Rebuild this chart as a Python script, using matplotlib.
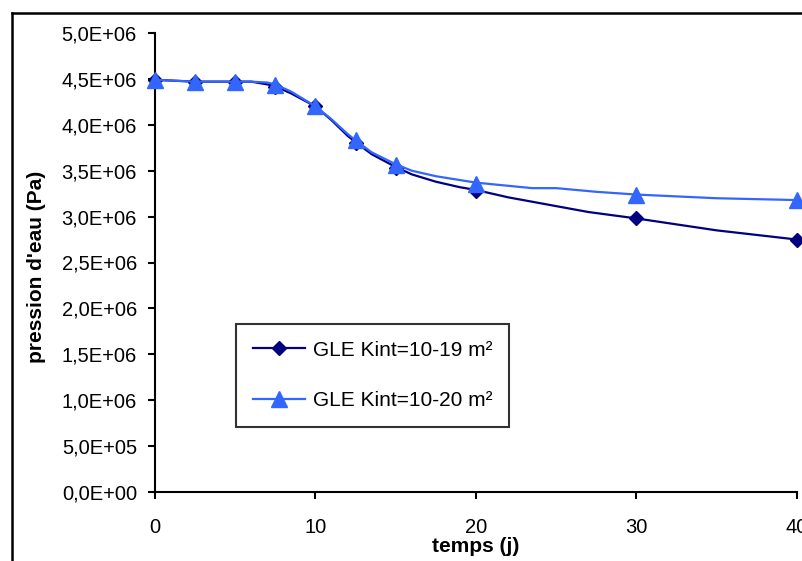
import matplotlib
matplotlib.use("Agg")
import matplotlib.pyplot as plt
from matplotlib.lines import Line2D

plt.rcParams['font.family'] = ['Liberation Sans', 'DejaVu Sans']

# --- data ---
# dense line curves
t_line_19 = [0, 2.5, 5, 6, 7, 7.5, 8.5, 10, 11, 12, 12.5, 13.5, 15, 16, 17.5, 19, 20, 21, 22, 27, 30, 35, 40]
p_line_19 = [4.49e6, 4.47e6, 4.47e6, 4.47e6, 4.44e6, 4.42e6, 4.34e6, 4.20e6, 4.05e6, 3.88e6, 3.81e6,
             3.68e6, 3.54e6, 3.46e6, 3.38e6, 3.32e6, 3.29e6, 3.25e6, 3.21e6, 3.05e6, 2.98e6, 2.85e6, 2.75e6]
t_line_20 = [0, 2.5, 5, 6, 7, 7.5, 8.5, 10, 11, 12, 12.5, 13.5, 15, 16, 17.5, 20, 23.5, 25, 27.5, 30, 35, 40]
p_line_20 = [4.49e6, 4.47e6, 4.47e6, 4.47e6, 4.46e6, 4.44e6, 4.36e6, 4.20e6, 4.06e6, 3.90e6, 3.83e6,
             3.70e6, 3.57e6, 3.50e6, 3.44e6, 3.37e6, 3.31e6, 3.31e6, 3.27e6, 3.24e6, 3.20e6, 3.18e6]
# marker points
t_mark = [0, 2.5, 5, 7.5, 10, 12.5, 15, 20, 30, 40]
p_mark_19 = [4.49e6, 4.47e6, 4.47e6, 4.41e6, 4.20e6, 3.80e6, 3.53e6, 3.28e6, 2.98e6, 2.75e6]
p_mark_20 = [4.49e6, 4.47e6, 4.47e6, 4.43e6, 4.20e6, 3.83e6, 3.56e6, 3.36e6, 3.24e6, 3.18e6]

labels = ["GLE Kint=10-19 m²", "GLE Kint=10-20 m²"]
xticks = [0, 10, 20, 30, 40]
yticks = [0, 0.5e6, 1.0e6, 1.5e6, 2.0e6, 2.5e6, 3.0e6, 3.5e6, 4.0e6, 4.5e6, 5.0e6]
ytick_labels = ["0,0E+00", "5,0E+05", "1,0E+06", "1,5E+06", "2,0E+06", "2,5E+06",
                "3,0E+06", "3,5E+06", "4,0E+06", "4,5E+06", "5,0E+06"]

W, H = 803, 561
fig = plt.figure(figsize=(W / 100, H / 100), dpi=100)
ax = fig.add_axes([155 / W, 1 - 492 / H, (797 - 155) / W, (492 - 33) / H])

c19 = "#000080"
c20 = "#3366FF"

ax.plot(t_line_19, p_line_19, color=c19, lw=1.6, clip_on=False, zorder=3)
ax.plot(t_mark, p_mark_19, ls='none', marker='D', ms=7, color=c19, clip_on=False, zorder=4)
ax.plot(t_line_20, p_line_20, color=c20, lw=1.6, clip_on=False, zorder=5)
ax.plot(t_mark, p_mark_20, ls='none', marker='^', ms=11, color=c20, clip_on=False, zorder=6)

ax.set_xlim(0, 40)
ax.set_ylim(0, 5e6)
ax.set_xticks(xticks)
ax.set_xticklabels([str(v) for v in xticks])
ax.set_yticks(yticks)
ax.set_yticklabels(ytick_labels)

for s in ['top', 'right']:
    ax.spines[s].set_visible(False)
for s in ['left', 'bottom']:
    ax.spines[s].set_linewidth(1.5)
ax.tick_params(axis='both', direction='out', length=5, width=1.5, labelsize=14.5, colors='black')
ax.tick_params(axis='y', pad=8)
ax.tick_params(axis='x', pad=14)

ax.set_xlabel("temps (j)", fontsize=15, fontweight='bold')
ax.xaxis.set_label_coords(476 / W, 1 - 547 / H, transform=fig.transFigure)
ax.xaxis.label.set_va('center')
ax.set_ylabel("pression d'eau (Pa)", fontsize=15, fontweight='bold')
ax.yaxis.set_label_coords(37 / W, 1 - 267 / H, transform=fig.transFigure)
ax.yaxis.label.set_va('center')

handles = [
    Line2D([], [], color=c19, lw=1.6, marker='D', ms=7),
    Line2D([], [], color=c20, lw=1.6, marker='^', ms=11),
]
leg = ax.legend(handles, labels, loc='upper left', bbox_to_anchor=(236 / W, 1 - 324 / H),
                bbox_transform=fig.transFigure, prop={'size': 15}, frameon=True, fancybox=False,
                edgecolor='black', borderpad=0.8, labelspacing=1.5, handlelength=2.5,
                handletextpad=0.4, borderaxespad=0)
leg.get_frame().set_linewidth(1.5)
leg.set_zorder(10)

# outer chart frame (cropped at right and bottom)
fig.add_artist(Line2D([12 / W, 12 / W], [0, 1 - 13 / H], color='black', lw=1.8, transform=fig.transFigure))
fig.add_artist(Line2D([12 / W, 1], [1 - 13 / H, 1 - 13 / H], color='black', lw=1.8, transform=fig.transFigure))

fig.savefig("out.png", dpi=100)
